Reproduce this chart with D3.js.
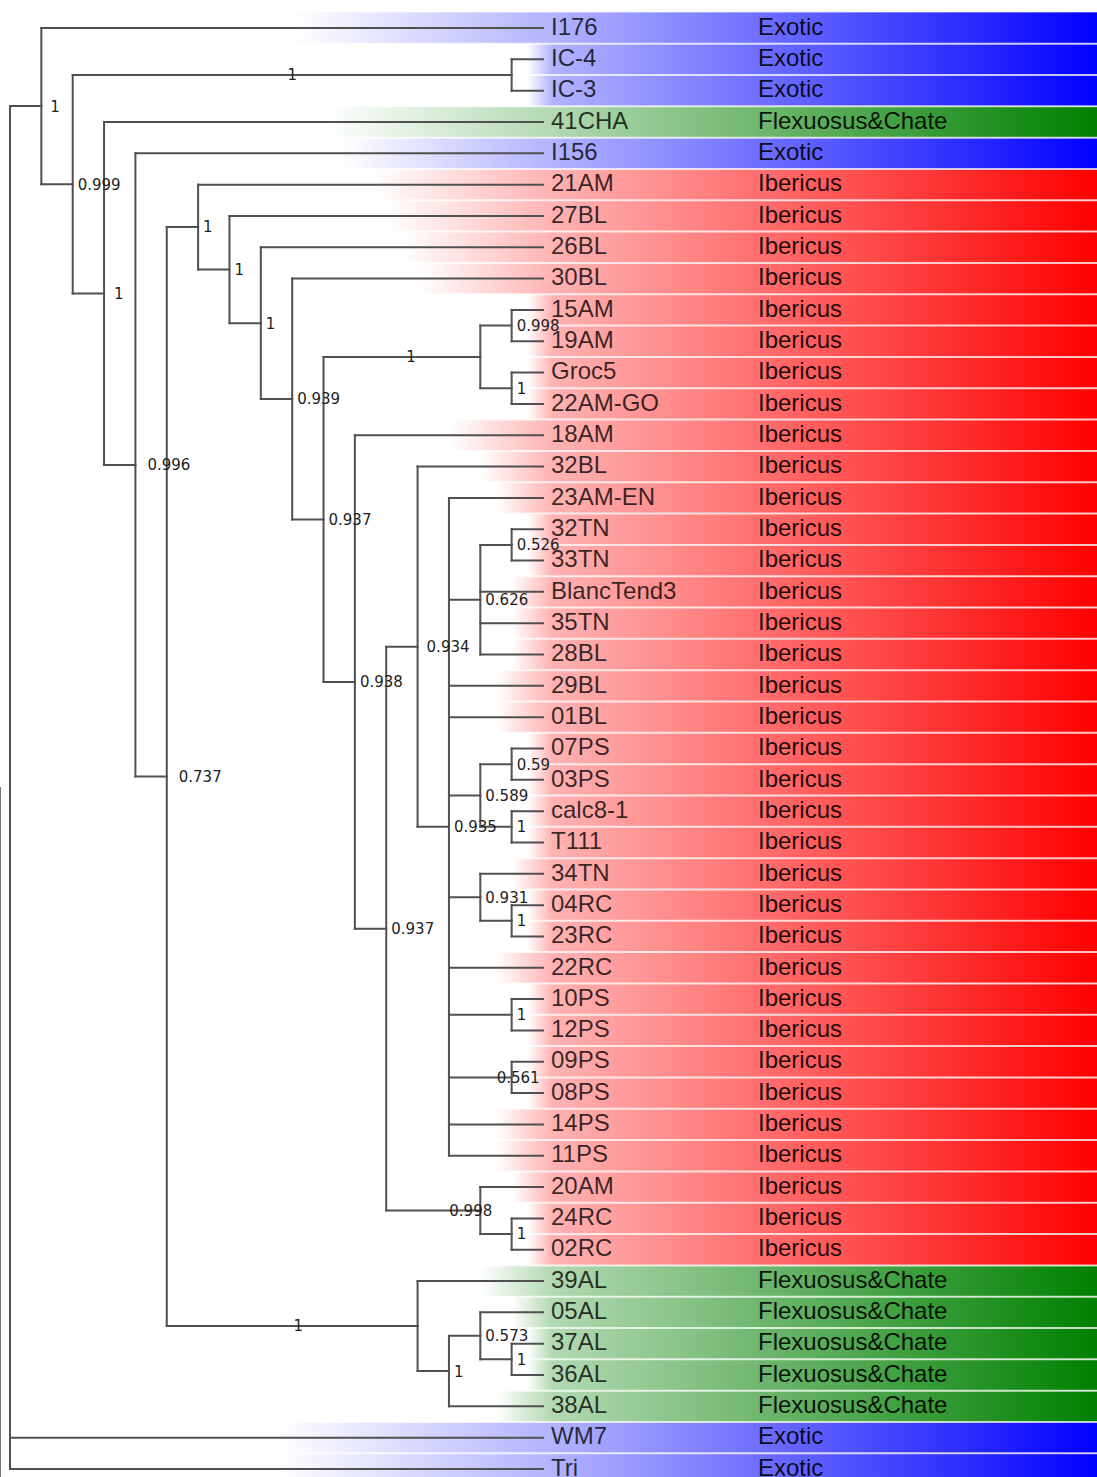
<!DOCTYPE html>
<html>
<head>
<meta charset="utf-8">
<script src="https://cdn.jsdelivr.net/npm/d3@7"></script>
<style>
  html, body { margin: 0; padding: 0; background: #fff; }
  svg { display: block; }
</style>
</head>
<body>
<svg id="chart" width="1097" height="1477"></svg>
<script>
// ---- Data -----------------------------------------------------------------
// Leaf order (top to bottom) and the group each accession belongs to
const leafNames = [
  "I176", "IC-4", "IC-3", "41CHA", "I156", "21AM", "27BL", "26BL", "30BL",
  "15AM", "19AM", "Groc5", "22AM-GO", "18AM", "32BL", "23AM-EN", "32TN", "33TN",
  "BlancTend3", "35TN", "28BL", "29BL", "01BL", "07PS", "03PS", "calc8-1", "T111",
  "34TN", "04RC", "23RC", "22RC", "10PS", "12PS", "09PS", "08PS", "14PS", "11PS",
  "20AM", "24RC", "02RC", "39AL", "05AL", "37AL", "36AL", "38AL", "WM7", "Tri"
];
const categories = ["Exotic", "Flexuosus&Chate", "Ibericus"];
const leafGroups = [
  "Exotic", "Exotic", "Exotic", "Flexuosus&Chate", "Exotic",
  "Ibericus", "Ibericus", "Ibericus", "Ibericus", "Ibericus", "Ibericus", "Ibericus",
  "Ibericus", "Ibericus", "Ibericus", "Ibericus", "Ibericus", "Ibericus", "Ibericus",
  "Ibericus", "Ibericus", "Ibericus", "Ibericus", "Ibericus", "Ibericus", "Ibericus",
  "Ibericus", "Ibericus", "Ibericus", "Ibericus", "Ibericus", "Ibericus", "Ibericus",
  "Ibericus", "Ibericus", "Ibericus", "Ibericus", "Ibericus", "Ibericus", "Ibericus",
  "Flexuosus&Chate", "Flexuosus&Chate", "Flexuosus&Chate", "Flexuosus&Chate",
  "Flexuosus&Chate", "Exotic", "Exotic"
];

// Clades in Newick notation, posterior support after each closing bracket
const cladeS = "((32TN,33TN)0.526,BlancTend3,35TN,28BL)0.626";
const cladeT = "((07PS,03PS)0.59,(calc8-1,T111)1)0.589";
const cladeU = "(34TN,(04RC,23RC)1)0.931";
const cladeR = `(23AM-EN,${cladeS},29BL,01BL,${cladeT},${cladeU},22RC,(10PS,12PS)1,(09PS,08PS)0.561,14PS,11PS)0.935`;
const cladeQ = "(20AM,(24RC,02RC)1)0.998";
const cladeO = `((32BL,${cladeR})0.934,${cladeQ})0.937`;
const cladeM = "((15AM,19AM)0.998,(Groc5,22AM-GO)1)1";
const cladeIber = `(21AM,(27BL,(26BL,(30BL,(${cladeM},(18AM,${cladeO})0.938)0.937)0.939)1)1)1`;
const cladeFlex = "(39AL,((05AL,(37AL,36AL)1)0.573,38AL)1)1";
const treeNewick =
  `((I176,((IC-4,IC-3)1,(41CHA,(I156,(${cladeIber},${cladeFlex})0.737)0.996)1)0.999)1,WM7,Tri);`;

// ---- Styling --------------------------------------------------------------
const groupColor = { "Exotic": "#0000ff", "Flexuosus&Chate": "#008000", "Ibericus": "#ff0000" };
const W = 1097, H = 1477;
const leafEnd = 543, labelX = 551, groupX = 758;
// horizontal offset of a support value from its node, keyed by "firstLeaf|lastLeaf"
const supportOffset = new Map([
  ["I176|38AL", 9], ["41CHA|38AL", 10], ["I156|38AL", 12], ["21AM|38AL", 12],
  ["32BL|11PS", 9], ["09PS|08PS", -15], ["20AM|02RC", -31],
  ["15AM|22AM-GO", 9], ["39AL|38AL", 6]
]);

// ---- Newick parser --------------------------------------------------------
function parseNewick(s) {
  let i = 0;
  function node() {
    const n = {};
    if (s[i] === "(") {
      i++;
      n.children = [];
      n.children.push(node());
      while (s[i] === ",") { i++; n.children.push(node()); }
      i++; // closing bracket
    }
    let tok = "";
    while (i < s.length && !",();".includes(s[i])) tok += s[i++];
    if (n.children) { if (tok) n.support = tok; } else n.name = tok;
    return n;
  }
  return node();
}

const root = d3.hierarchy(parseNewick(treeNewick));
const leafIndex = new Map(leafNames.map((d, i) => [d, i]));

const x = d3.scaleLinear().domain([root.height, 0]).range([10, leafEnd]);
const y = d3.scaleLinear().domain([0, leafNames.length - 1]).range([28, 1469]);
const step = y(1) - y(0);

root.eachAfter(n => {
  n.px = x(n.height);
  if (n.children) {
    n.py = (n.children[0].py + n.children[n.children.length - 1].py) / 2;
  } else {
    n.py = y(leafIndex.get(n.data.name));
  }
});

const svg = d3.select("#chart");
const defs = svg.append("defs");

// ---- Coloured group bands behind every leaf row ---------------------------
const leaves = root.leaves();
const bandG = svg.append("g");
const rampX = 552;   // where the fade-in meets the common ramp
leaves.forEach(leaf => {
  const i = leafIndex.get(leaf.data.name);
  const col = groupColor[leafGroups[i]];
  const x0 = (leaf.parent.px + leafEnd) / 2;
  const id = "band" + i;
  const grad = defs.append("linearGradient")
    .attr("id", id).attr("gradientUnits", "userSpaceOnUse")
    .attr("x1", x0).attr("x2", W).attr("y1", 0).attr("y2", 0);
  grad.append("stop").attr("offset", 0).attr("stop-color", col).attr("stop-opacity", 0);
  grad.append("stop").attr("offset", (rampX - x0) / (W - x0))
    .attr("stop-color", col).attr("stop-opacity", 0.3);
  grad.append("stop").attr("offset", 1).attr("stop-color", col).attr("stop-opacity", 1);
  bandG.append("rect")
    .attr("x", x0).attr("width", W - x0)
    .attr("y", leaf.py - step / 2).attr("height", step)
    .attr("fill", `url(#${id})`);
});
// light separators between rows
bandG.selectAll("line.sep")
  .data(d3.range(1, leafNames.length))
  .join("line")
  .attr("x1", 200).attr("x2", W)
  .attr("y1", d => y(d) - step / 2).attr("y2", d => y(d) - step / 2)
  .attr("stroke", "#fff").attr("stroke-opacity", 0.75).attr("stroke-width", 2);

// ---- Branches -------------------------------------------------------------
const branchG = svg.append("g")
  .attr("fill", "none").attr("stroke", "#505050").attr("stroke-width", 2)
  .attr("stroke-linecap", "square");

branchG.selectAll("path.h")
  .data(root.descendants().filter(n => n.parent))
  .join("path")
  .attr("d", n => `M${n.parent.px},${n.py}H${n.px}`);

branchG.selectAll("path.v")
  .data(root.descendants().filter(n => n.children))
  .join("path")
  .attr("d", n => `M${n.px},${n.children[0].py}V${n.children[n.children.length - 1].py}`);

// frame edge on the lower left
svg.append("line")
  .attr("x1", 0.5).attr("x2", 0.5).attr("y1", 787).attr("y2", H)
  .attr("stroke", "#777").attr("stroke-width", 1);

// ---- Support values -------------------------------------------------------
const supG = svg.append("g")
  .attr("font-family", "'DejaVu Sans', Verdana, sans-serif")
  .attr("font-size", 15).attr("fill", "#1e1e1e");

root.descendants().filter(n => n.data.support && n.parent).forEach(n => {
  const len = n.px - n.parent.px;
  const lv = n.leaves();
  const key = lv[0].data.name + "|" + lv[lv.length - 1].data.name;
  const t = supG.append("text").attr("y", n.py).attr("dy", "0.36em").text(n.data.support);
  if (len > 150) {
    t.attr("x", (n.px + n.parent.px) / 2 + (supportOffset.get(key) || 0))
      .attr("text-anchor", "middle");
  } else {
    t.attr("x", n.px + (supportOffset.has(key) ? supportOffset.get(key) : 5));
  }
});

// ---- Leaf and group labels ------------------------------------------------
const textG = svg.append("g")
  .attr("font-family", "'Liberation Sans', Arial, sans-serif")
  .attr("font-size", 24);

textG.selectAll("text.leaf")
  .data(leaves)
  .join("text")
  .attr("x", labelX).attr("y", d => d.py).attr("dy", "0.28em")
  .attr("fill", "#000").attr("fill-opacity", 0.78)
  .text(d => d.data.name);

textG.selectAll("text.grp")
  .data(leaves)
  .join("text")
  .attr("x", groupX).attr("y", d => d.py).attr("dy", "0.28em")
  .attr("fill", "#000").attr("fill-opacity", 0.9)
  .text(d => leafGroups[leafIndex.get(d.data.name)]);
</script>
</body>
</html>
